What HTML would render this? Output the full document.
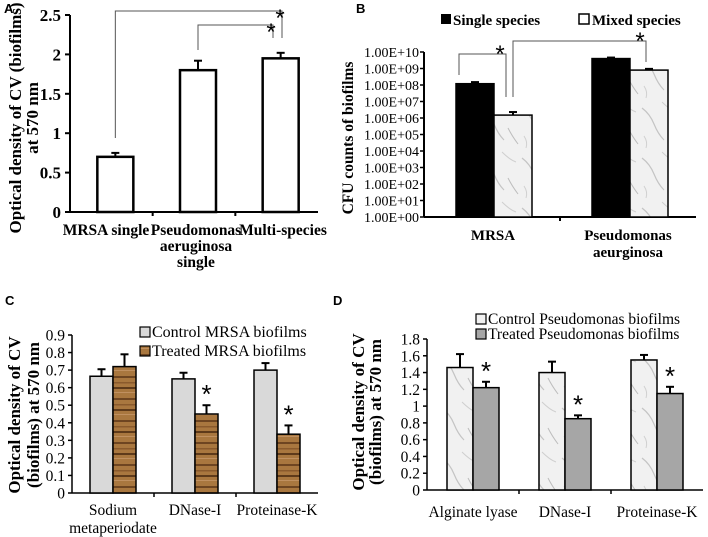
<!DOCTYPE html>
<html><head><meta charset="utf-8"><style>
html,body{margin:0;padding:0;background:#fff;}
svg{display:block;font-family:"Liberation Serif",serif;}
</style></head><body>
<svg id="fig" width="708" height="537" viewBox="0 0 708 537">
<defs>
<pattern id="marble" patternUnits="userSpaceOnUse" width="40" height="50">
<rect width="40" height="50" fill="#f1f1f1"/>
<path d="M2 8 Q10 14 14 24 T24 40" stroke="#c4c4c4" stroke-width="1.2" fill="none"/>
<path d="M22 2 Q30 10 36 12" stroke="#cfcfcf" stroke-width="1" fill="none"/>
<path d="M28 28 Q32 36 38 44" stroke="#bdbdbd" stroke-width="1" fill="none"/>
<path d="M4 36 Q8 42 6 48" stroke="#d0d0d0" stroke-width="1" fill="none"/>
</pattern>
<pattern id="wood" patternUnits="userSpaceOnUse" width="24" height="22">
<rect width="24" height="22" fill="#a9773f"/>
<rect y="2" width="24" height="2" fill="#6e4521"/>
<rect y="8" width="24" height="1.5" fill="#8a5a2c"/>
<rect y="13" width="24" height="2" fill="#5e3a1a"/>
<rect y="18" width="24" height="1" fill="#c09060"/>
</pattern>
</defs>
<g id="pA"></g>
<g id="pB"></g>
<g id="pC"></g>
<g id="pD"></g>
</svg>
<script>
// Panel A data
const aCategories = ["MRSA single", "Pseudomonas aeruginosa single", "Multi-species"];
const aValues = [0.7, 1.8, 1.95];
const aErrors = [0.05, 0.12, 0.07];
const aTicks = [0, 0.5, 1, 1.5, 2, 2.5];
// Panel B data
const bCategories = ["MRSA", "Pseudomonas aeurginosa"];
const bSingle = [1.2e8, 4e9];
const bMixed = [1.5e6, 8e8];
const bSingleErr = [0.3e8, 0.6e9];
const bMixedErr = [0.8e6, 1.5e8];
const bTicks = ["1.00E+00","1.00E+01","1.00E+02","1.00E+03","1.00E+04","1.00E+05","1.00E+06","1.00E+07","1.00E+08","1.00E+09","1.00E+10"];
// Panel C data
const cCategories = ["Sodium metaperiodate", "DNase-I", "Proteinase-K"];
const cControl = [0.665, 0.65, 0.70];
const cControlErr = [0.04, 0.035, 0.04];
const cTreated = [0.72, 0.45, 0.335];
const cTreatedErr = [0.07, 0.05, 0.05];
const cTicks = [0, 0.1, 0.2, 0.3, 0.4, 0.5, 0.6, 0.7, 0.8, 0.9];
// Panel D data
const dCategories = ["Alginate lyase", "DNase-I", "Proteinase-K"];
const dControl = [1.46, 1.40, 1.55];
const dControlErr = [0.16, 0.13, 0.06];
const dTreated = [1.22, 0.85, 1.15];
const dTreatedErr = [0.07, 0.04, 0.08];
const dTicks = [0, 0.2, 0.4, 0.6, 0.8, 1, 1.2, 1.4, 1.6, 1.8];

const NS = "http://www.w3.org/2000/svg";
function mk(parent, tag, attrs, text) {
  const e = document.createElementNS(NS, tag);
  for (const k in attrs) e.setAttribute(k, attrs[k]);
  if (text !== undefined) e.textContent = text;
  parent.appendChild(e);
  return e;
}
function line(g, x1, y1, x2, y2, w, c) {
  return mk(g, "line", {x1, y1, x2, y2, stroke: c || "#000", "stroke-width": w || 1});
}
function errBar(g, x, yTop, yVal) {
  const l = line(g, x, yVal, x, yTop, 2);
  
  
  const c = line(g, x - 4, yTop, x + 4, yTop, 2);
  
  
}
function star(g, x, y, size) {
  const s = mk(g, "text", {x, y, "text-anchor": "middle", "font-size": size || 24, "font-family": "Liberation Sans, sans-serif"}, "*");
  
  
}
function panelLetter(g, x, y, t) {
  const e = mk(g, "text", {x, y, "font-size": 13, "font-weight": "bold", "font-family": "Liberation Sans, sans-serif"}, t);
  
  
}
function yTitle(g, x1, x2, cy, l1, l2, size) {
  const t1 = mk(g, "text", {x: 0, y: 0, transform: `translate(${x1},${cy}) rotate(-90)`, "text-anchor": "middle", "font-size": size, "font-weight": "bold"}, l1);
  
  
  if (l2) {
    const t2 = mk(g, "text", {x: 0, y: 0, transform: `translate(${x2},${cy}) rotate(-90)`, "text-anchor": "middle", "font-size": size, "font-weight": "bold"}, l2);
    
    
  }
}

// ---------- Panel A ----------
(function () {
  const g = document.getElementById("pA");
  const x0 = 70, x1 = 318, y0 = 212, yTop = 15, max = 2.5;
  const Y = v => y0 - (v / max) * (y0 - yTop);
  const cw = (x1 - x0) / aCategories.length;
  const X = i => x0 + cw * (i + 0.5) + 4;
  panelLetter(g, 4, 13, "A");
  line(g, x0, yTop, x0, y0, 2);
  line(g, x0, y0, x1, y0, 2);
  aTicks.forEach(t => {
    line(g, x0 - 5, Y(t), x0, Y(t), 2);
    const e = mk(g, "text", {x: x0 - 9, y: Y(t) + 6, "text-anchor": "end", "font-size": 17, "font-weight": "bold"}, t);
    
    
  });
  for (let i = 1; i < aCategories.length; i++) line(g, x0 + cw * i, y0, x0 + cw * i, y0 + 4, 2);
  const bw = 36;
  aValues.forEach((v, i) => {
    const r = mk(g, "rect", {x: X(i) - bw / 2, y: Y(v), width: bw, height: y0 - Y(v), fill: "#fff", stroke: "#000", "stroke-width": 2.5});
    
    
    errBar(g, X(i), Y(v + aErrors[i]), Y(v));
  });
  const br = [[0, 2, 11, 282], [1, 2, 25, 273]];
  const legBottom = [138, 50];
  br.forEach((b, k) => {
    const p = mk(g, "polyline", {points: `${X(b[0])},${legBottom[k]} ${X(b[0])},${b[2]} ${b[3]},${b[2]} ${b[3]},38`, fill: "none", stroke: "#555", "stroke-width": 1});
    
    
    star(g, b[3] - 2, b[2] + 15, 24);
  });
  const labs = [["MRSA single"], ["Pseudomonas", "aeruginosa", "single"], ["Multi-species"]];
  const lx = [106, 196, 283];
  labs.forEach((ls, i) => ls.forEach((s, j) => {
    const e = mk(g, "text", {x: lx[i], y: 235 + j * 16, "text-anchor": "middle", "font-size": 15.5, "font-weight": "bold"}, s);
    
    
  }));
  yTitle(g, 21, 38, 118, "Optical density of CV (biofilms)", "at 570 nm", 17);
})();

// ---------- Panel B ----------
(function () {
  const g = document.getElementById("pB");
  const x0 = 424, x1 = 696, y0 = 217, yTop = 52;
  const Y = v => y0 - (Math.log10(v) / 10) * (y0 - yTop);
  const cw = (x1 - x0) / 2;
  panelLetter(g, 356, 13, "B");
  line(g, x0, yTop, x0, y0, 2);
  line(g, x0, y0, x1, y0, 2);
  bTicks.forEach((t, i) => {
    const y = y0 - i / 10 * (y0 - yTop);
    line(g, x0 - 4, y, x0, y, 1.5);
    const e = mk(g, "text", {x: x0 - 5, y: y + 5, "text-anchor": "end", "font-size": 14}, t);
    
    
  });
  line(g, x0 + cw, y0, x0 + cw, y0 + 4, 2);
  const bw = 38;
  const cx = i => x0 + cw * (i + 0.5) + 2;
  bCategories.forEach((c, i) => {
    const s = mk(g, "rect", {x: cx(i) - bw, y: Y(bSingle[i]), width: bw, height: y0 - Y(bSingle[i]), fill: "#000", stroke: "#000", "stroke-width": 1.5});
    
    
    errBar(g, cx(i) - bw / 2, Y(bSingle[i] + bSingleErr[i]), Y(bSingle[i]));
    const m = mk(g, "rect", {x: cx(i), y: Y(bMixed[i]), width: bw, height: y0 - Y(bMixed[i]), fill: "url(#marble)", stroke: "#000", "stroke-width": 1.5});
    
    
    errBar(g, cx(i) + bw / 2, Y(bMixed[i] + bMixedErr[i]), Y(bMixed[i]));
  });
  let p = mk(g, "polyline", {points: "459,75 459,54 506,54 506,97", fill: "none", stroke: "#555"});
  
  
  star(g, 500, 62, 24);
  p = mk(g, "polyline", {points: "513,97 513,41 646,41 646,62", fill: "none", stroke: "#555"});
  
  
  star(g, 640, 49, 24);
  const lg = mk(g, "g", {});
  
  
  let r = mk(lg, "rect", {x: 441, y: 14, width: 10, height: 10, fill: "#000"});
  
  
  let t = mk(lg, "text", {x: 453, y: 25, "font-size": 15, "font-weight": "bold"}, "Single species");
  
  
  r = mk(lg, "rect", {x: 579, y: 14, width: 10, height: 10, fill: "#fff", stroke: "#000", "stroke-width": 1.5});
  
  
  t = mk(lg, "text", {x: 592, y: 25, "font-size": 15, "font-weight": "bold"}, "Mixed species");
  
  
  const labs = [["MRSA"], ["Pseudomonas", "aeurginosa"]];
  const lx = [493, 628];
  labs.forEach((ls, i) => ls.forEach((s, j) => {
    const e = mk(g, "text", {x: lx[i], y: 240 + j * 17, "text-anchor": "middle", "font-size": 15, "font-weight": "bold"}, s);
    
    
  }));
  yTitle(g, 353, 0, 138, "CFU counts of biofilms", null, 15.5);
})();

// ---------- grouped panel (C, D) ----------
function grouped(g, o) {
  const Y = v => o.y0 - (v / o.max) * (o.y0 - o.yTop);
  const cw = (o.x1 - o.x0) / o.cats.length;
  line(g, o.x0, o.yTop, o.x0, o.y0, 1.5);
  line(g, o.x0, o.y0, o.x1, o.y0, 1.5);
  o.ticks.forEach(t => {
    line(g, o.x0 - 4, Y(t), o.x0, Y(t), 1.5);
    const e = mk(g, "text", {x: o.x0 - 7, y: Y(t) + 5.5, "text-anchor": "end", "font-size": 15.5}, t);
    
    
  });
  for (let i = 1; i < o.cats.length; i++) line(g, o.x0 + cw * i, o.y0, o.x0 + cw * i, o.y0 + 4, 1.5);
  o.cats.forEach((c, i) => {
    const cx = o.x0 + cw * (i + 0.5) + o.shift;
    const a = mk(g, "rect", {x: cx - o.bw, y: Y(o.ctrl[i]), width: o.bw, height: o.y0 - Y(o.ctrl[i]), fill: o.ctrlFill, stroke: "#000", "stroke-width": 1.5});
    
    
    errBar(g, cx - o.bw / 2, Y(o.ctrl[i] + o.ctrlErr[i]), Y(o.ctrl[i]));
    const b = mk(g, "rect", {x: cx, y: Y(o.trt[i]), width: o.bw, height: o.y0 - Y(o.trt[i]), fill: o.trtFill, stroke: "#000", "stroke-width": 1.5});
    
    
    errBar(g, cx + o.bw / 2, Y(o.trt[i] + o.trtErr[i]), Y(o.trt[i]));
    if (o.stars[i]) star(g, cx + o.bw / 2, Y(o.trt[i] + o.trtErr[i]) - 2, 26);
  });
  const lg = mk(g, "g", {});
  
  
  o.legend.forEach((s, k) => {
    const r = mk(lg, "rect", {x: o.lx, y: o.ly + k * o.lgap - 10, width: 10, height: 10, fill: k ? o.trtFill : o.ctrlFill, stroke: "#000", "stroke-width": 1.2});
    
    
    const t = mk(lg, "text", {x: o.lx + 12, y: o.ly + k * o.lgap, "font-size": o.lfs}, s);
    
    
  });
  o.labels.forEach((ls, i) => ls.forEach((s, j) => {
    const e = mk(g, "text", {x: o.x0 + cw * (i + 0.5) + o.shift, y: o.labY + j * 18, "text-anchor": "middle", "font-size": 15.5}, s);
    
    
  }));
}
(function () {
  const g = document.getElementById("pC");
  panelLetter(g, 5, 305, "C");
  grouped(g, {x0: 72, x1: 318, y0: 493, yTop: 335, max: 0.9, ticks: cTicks, cats: cCategories,
    ctrl: cControl, ctrlErr: cControlErr, trt: cTreated, trtErr: cTreatedErr, bw: 23, shift: 0,
    ctrlFill: "#d9d9d9", trtFill: "url(#wood)", stars: [false, true, true],
    legend: ["Control MRSA biofilms", "Treated MRSA biofilms"], lx: 140, ly: 337, lgap: 19, lfs: 16,
    labels: [["Sodium", "metaperiodate"], ["DNase-I"], ["Proteinase-K"]], labY: 515});
  yTitle(g, 20, 39, 415, "Optical density of CV", "(biofilms) at 570 nm", 17);
})();
(function () {
  const g = document.getElementById("pD");
  panelLetter(g, 333, 305, "D");
  grouped(g, {x0: 427, x1: 703, y0: 490, yTop: 339, max: 1.8, ticks: dTicks, cats: dCategories,
    ctrl: dControl, ctrlErr: dControlErr, trt: dTreated, trtErr: dTreatedErr, bw: 26, shift: 0,
    ctrlFill: "url(#marble)", trtFill: "#a6a6a6", stars: [true, true, true],
    legend: ["Control Pseudomonas biofilms", "Treated Pseudomonas biofilms"], lx: 476, ly: 324, lgap: 15, lfs: 15.5,
    labels: [["Alginate lyase"], ["DNase-I"], ["Proteinase-K"]], labY: 517});
  yTitle(g, 364, 381, 412, "Optical density of CV", "(biofilms) at 570 nm", 17);
})();
</script>
</body></html>
